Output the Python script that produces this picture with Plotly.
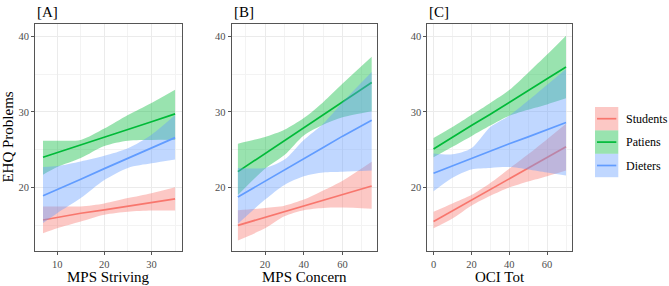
import plotly.graph_objects as go

# ---------------- data ----------------
groups = ["Students", "Patiens", "Dieters"]
colors = ["#F8766D", "#00BA38", "#619CFF"]
fills = ["rgba(248,118,109,0.4)", "rgba(0,186,56,0.4)", "rgba(97,156,255,0.4)"]

panel_labels = ["[A]", "[B]", "[C]"]
x_titles = ["MPS Striving", "MPS Concern", "OCI Tot"]
y_title = "EHQ Problems"

# Panel A : MPS Striving
a_x = [7, 10, 15, 20, 25, 30, 35]
a_students_fit = [15.7, 16.05, 16.6, 17.05, 17.55, 18.0, 18.5]
a_students_lo = [13.95, 14.6, 15.5, 16.4, 16.8, 16.95, 16.95]
a_students_hi = [17.5, 17.5, 17.5, 17.9, 18.6, 19.25, 20.05]
a_patiens_fit = [24.0, 24.6, 25.6, 26.65, 27.7, 28.7, 29.75]
a_patiens_lo = [21.7, 22.7, 23.9, 25.5, 26.2, 26.3, 26.3]
a_patiens_hi = [26.2, 26.2, 26.3, 27.8, 29.6, 31.2, 32.95]
a_dieters_fit = [18.9, 19.7, 21.1, 22.5, 23.9, 25.25, 26.6]
a_dieters_lo = [15.3, 16.6, 18.6, 21.0, 22.6, 23.2, 23.7]
a_dieters_hi = [22.7, 22.85, 23.45, 24.2, 25.2, 27.0, 29.6]

# Panel B : MPS Concern
b_x = [6, 20, 30, 40, 50, 60, 75]
b_students_fit = [15.0, 16.06, 16.8, 17.56, 18.3, 19.07, 20.2]
b_students_lo = [13.0, 14.6, 16.2, 17.0, 17.3, 17.35, 17.2]
b_students_hi = [17.0, 17.3, 17.6, 18.4, 19.6, 20.9, 23.4]
b_patiens_fit = [22.1, 24.5, 26.2, 27.9, 29.6, 31.3, 33.9]
b_patiens_lo = [19.0, 22.5, 24.3, 26.9, 28.3, 29.3, 30.1]
b_patiens_hi = [25.8, 26.7, 27.65, 29.2, 31.3, 33.75, 37.3]
b_dieters_fit = [18.75, 20.8, 22.3, 23.8, 25.3, 26.8, 28.9]
b_dieters_lo = [15.2, 18.4, 20.35, 21.5, 22.0, 22.1, 22.25]
b_dieters_hi = [22.6, 22.6, 23.7, 26.3, 28.45, 31.3, 35.3]

# Panel C : OCI Tot
c_x = [0, 10, 20, 30, 40, 50, 60, 70]
c_students_fit = [15.5, 16.9, 18.3, 19.7, 21.1, 22.5, 24.0, 25.4]
c_students_lo = [14.6, 15.9, 17.6, 18.9, 20.0, 20.8, 21.5, 22.25]
c_students_hi = [16.8, 17.9, 19.0, 20.6, 22.5, 24.4, 26.4, 28.45]
c_patiens_fit = [25.1, 26.7, 28.2, 29.7, 31.3, 32.8, 34.4, 35.95]
c_patiens_lo = [24.0, 25.4, 26.8, 28.2, 29.5, 30.3, 31.0, 31.8]
c_patiens_hi = [26.55, 28.0, 29.6, 31.2, 32.9, 35.2, 37.6, 40.1]
c_dieters_fit = [21.9, 22.9, 23.8, 24.8, 25.8, 26.7, 27.6, 28.6]
c_dieters_lo = [19.5, 21.3, 22.4, 22.6, 22.7, 22.4, 22.0, 21.6]
c_dieters_hi = [24.5, 24.4, 25.2, 28.0, 29.5, 31.5, 33.6, 35.7]

x_ticks = [[10, 20, 30], [20, 40, 60], [0, 20, 40, 60]]
x_minor = [5, 10, 10]
y_ticks = [20, 30, 40]

panels = [
    (a_x, [(a_students_fit, a_students_lo, a_students_hi),
           (a_patiens_fit, a_patiens_lo, a_patiens_hi),
           (a_dieters_fit, a_dieters_lo, a_dieters_hi)]),
    (b_x, [(b_students_fit, b_students_lo, b_students_hi),
           (b_patiens_fit, b_patiens_lo, b_patiens_hi),
           (b_dieters_fit, b_dieters_lo, b_dieters_hi)]),
    (c_x, [(c_students_fit, c_students_lo, c_students_hi),
           (c_patiens_fit, c_patiens_lo, c_patiens_hi),
           (c_dieters_fit, c_dieters_lo, c_dieters_hi)]),
]

# ---------------- layout constants ----------------
W, H = 669, 286
FONT = "Liberation Serif"
x_domains_px = [(35, 181.7), (231.7, 377.3), (427.3, 571.7)]
y_domain_px = (24.3, 251)
x_ranges = [[5.3, 36.4], [2.8, 77.9], [-3.3, 73.0]]
y_range = [11.6, 41.6]

fig = go.Figure()

for p, (xs, series) in enumerate(panels):
    xa = "x" if p == 0 else f"x{p+1}"
    ya = "y" if p == 0 else f"y{p+1}"
    for g, (fit, lo, hi) in enumerate(series):
        fig.add_trace(go.Scatter(
            x=xs, y=lo, mode="lines", line=dict(width=0, shape="spline", smoothing=0.8),
            hoverinfo="skip", showlegend=False, xaxis=xa, yaxis=ya))
        fig.add_trace(go.Scatter(
            x=xs, y=hi, mode="lines", fill="tonexty", fillcolor=fills[g],
            line=dict(width=0, shape="spline", smoothing=0.8),
            hoverinfo="skip", showlegend=False, xaxis=xa, yaxis=ya))
        fig.add_trace(go.Scatter(
            x=xs, y=fit, mode="lines", line=dict(color=colors[g], width=1.7),
            name=groups[g], showlegend=False, xaxis=xa, yaxis=ya))

axis_common = dict(
    showline=True, mirror=True, linecolor="#555555", linewidth=1,
    ticks="outside", ticklen=3, tickwidth=1, tickcolor="#555555",
    showgrid=True, gridcolor="#EBEBEB", gridwidth=1, zeroline=False,
    tickfont=dict(family=FONT, size=10.5, color="#4D4D4D"),
)

annotations = []
shapes = []
for p in range(3):
    xd = [x_domains_px[p][0] / W, x_domains_px[p][1] / W]
    yd = [1 - y_domain_px[1] / H, 1 - y_domain_px[0] / H]
    sx = "" if p == 0 else str(p + 1)
    fig.layout["xaxis" + sx] = dict(
        axis_common, domain=xd, range=x_ranges[p], anchor="y" + sx,
        tickvals=x_ticks[p],
        minor=dict(dtick=x_minor[p], tick0=0, showgrid=True,
                   gridcolor="#F3F3F3", gridwidth=0.6, ticks=""))
    fig.layout["yaxis" + sx] = dict(
        axis_common, domain=yd, range=y_range, anchor="x" + sx,
        tickvals=y_ticks,
        minor=dict(dtick=5, tick0=0, showgrid=True,
                   gridcolor="#F3F3F3", gridwidth=0.6, ticks=""))
    annotations.append(dict(
        text=panel_labels[p], x=xd[0], y=1 - 12 / H, xref="paper", yref="paper",
        xanchor="left", yanchor="middle", showarrow=False,
        font=dict(family=FONT, size=15, color="black")))
    annotations.append(dict(
        text=x_titles[p], x=(xd[0] + xd[1]) / 2, y=1 - 277 / H,
        xref="paper", yref="paper", xanchor="center", yanchor="middle",
        showarrow=False, font=dict(family=FONT, size=15, color="black")))

annotations.append(dict(
    text=y_title, x=8 / W, y=1 - 137.6 / H, xref="paper", yref="paper",
    xanchor="center", yanchor="middle", textangle=-90, showarrow=False,
    font=dict(family=FONT, size=15, color="black")))

# manual legend
key_x0, key_x1 = 595, 618.3
key_top, key_h = 107, 23.4
for g in range(3):
    t = key_top + g * key_h
    b = t + key_h
    shapes.append(dict(type="rect", xref="paper", yref="paper",
                       x0=key_x0 / W, x1=key_x1 / W, y0=1 - b / H, y1=1 - t / H,
                       fillcolor=fills[g], line=dict(width=0), layer="above"))
    shapes.append(dict(type="line", xref="paper", yref="paper",
                       x0=(key_x0 + 2) / W, x1=(key_x1 - 2) / W,
                       y0=1 - (t + key_h / 2) / H, y1=1 - (t + key_h / 2) / H,
                       line=dict(color=colors[g], width=1.7), layer="above"))
    annotations.append(dict(
        text=groups[g], x=624 / W, y=1 - (t + key_h / 2) / H, xref="paper",
        yref="paper", xanchor="left", yanchor="middle", showarrow=False,
        font=dict(family=FONT, size=12, color="black")))

fig.update_layout(
    width=W, height=H, margin=dict(l=0, r=0, t=0, b=0),
    paper_bgcolor="white", plot_bgcolor="white",
    showlegend=False, annotations=annotations, shapes=shapes,
    font=dict(family=FONT),
)

fig.write_html("out.html")
